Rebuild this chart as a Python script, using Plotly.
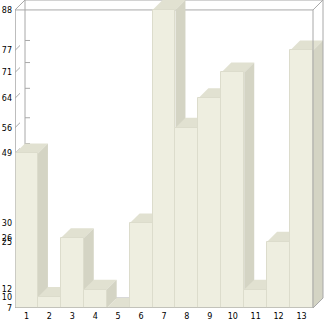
import plotly.graph_objects as go

# ---- data ----
categories = [str(i) for i in range(1, 14)]
values = [49, 10, 26, 12, 7, 30, 88, 56, 64, 71, 12, 25, 77]
y_tick_values = sorted(set(values))
y_tick_labels = [str(v) for v in y_tick_values]

# ---- styling ----
FRONT = "#EEEEE0"
TOP = "#E1E1D1"
SIDE = "#D4D4C4"
EDGE = "#DCDCCC"
FRAME = "#A8A8A8"

W, H = 326, 321
ML, MR, MT, MB = 15, 0, 0, 11
FRONT_W = 298
DEPTH = 10

n = len(values)
positions = list(range(1, n + 1))
kx = FRONT_W / n
x0, x1 = 0.5, n + 0.5
xr = [x0, x1 + (W - ML - MR - FRONT_W) / kx]
ymin, ymax = min(values), max(values)
ky = (H - MT - MB - DEPTH) / (ymax - ymin)
yr = [ymin, ymax + DEPTH / ky]
dx = DEPTH / kx
dy = DEPTH / ky


def poly(pts):
    return "M " + " L ".join(f"{px},{py}" for px, py in pts) + " Z"


def line(xa, ya, xb, yb, layer="below", color=FRAME):
    return dict(type="line", xref="x", yref="y", x0=xa, y0=ya, x1=xb, y1=yb,
                line=dict(color=color, width=1), layer=layer)


shapes = []
# back wall frame
shapes.append(line(x0 + dx, ymin + dy, x0 + dx, ymax + dy))
shapes.append(line(x0 + dx, ymax + dy, x1 + dx, ymax + dy))
shapes.append(line(x0 + dx, ymin + dy, x1 + dx, ymin + dy))
# front top & connectors
shapes.append(line(x0, ymax, x1, ymax))
shapes.append(line(x0, ymax, x0 + dx, ymax + dy))
shapes.append(line(x1, ymax, x1 + dx, ymax + dy))
shapes.append(line(x0, ymin, x0, ymax))
# ticks
for v in y_tick_values:
    if v == ymax or v == ymin:
        continue
    shapes.append(line(x0, v, x0 + dx / 2, v + dy / 2))
    shapes.append(line(x0 + dx, v + dy, x0 + dx + 5 / kx, v + dy))

# bar top and side faces (painter's order, left to right)
for c, v in zip(positions, values):
    l, r = c - 0.5, c + 0.5
    shapes.append(dict(type="path", xref="x", yref="y", layer="below",
                       path=poly([(l, v), (r, v), (r + dx, v + dy), (l + dx, v + dy)]),
                       fillcolor=TOP, line=dict(width=0)))
    shapes.append(dict(type="path", xref="x", yref="y", layer="below",
                       path=poly([(r, ymin), (r, v), (r + dx, v + dy), (r + dx, ymin + dy)]),
                       fillcolor=SIDE, line=dict(width=0)))

# right frame lines and bottom line on top
shapes.append(line(x1, ymin, x1, ymax, layer="above"))
shapes.append(line(x1 + dx, ymin + dy, x1 + dx, ymax + dy, layer="above"))
shapes.append(line(x1, ymin, x1 + dx, ymin + dy, layer="above"))
shapes.append(line(x0, ymin, x1, ymin, layer="above"))
shapes.append(line(x0, ymin, x0, ymax, layer="above"))

fig = go.Figure()
fig.add_trace(go.Bar(
    x=positions,
    y=[v - ymin for v in values],
    base=ymin,
    width=1,
    marker=dict(color=FRONT, line=dict(color=EDGE, width=1)),
    hoverinfo="skip",
))

font = dict(family="DejaVu Sans", size=8, color="#000000")
fig.update_layout(
    width=W, height=H,
    margin=dict(l=ML, r=MR, t=MT, b=MB, pad=0),
    paper_bgcolor="white", plot_bgcolor="white",
    showlegend=False,
    bargap=0,
    shapes=shapes,
    xaxis=dict(range=xr, tickvals=positions, ticktext=categories,
               showgrid=False, zeroline=False, showline=False, ticks="",
               tickfont=font, ticklabelstandoff=2, fixedrange=True),
    yaxis=dict(range=yr, tickvals=y_tick_values, ticktext=y_tick_labels,
               showgrid=False, zeroline=False, showline=False, ticks="",
               tickfont=font, ticklabelstandoff=2, fixedrange=True),
)

fig.write_html("out.html")
